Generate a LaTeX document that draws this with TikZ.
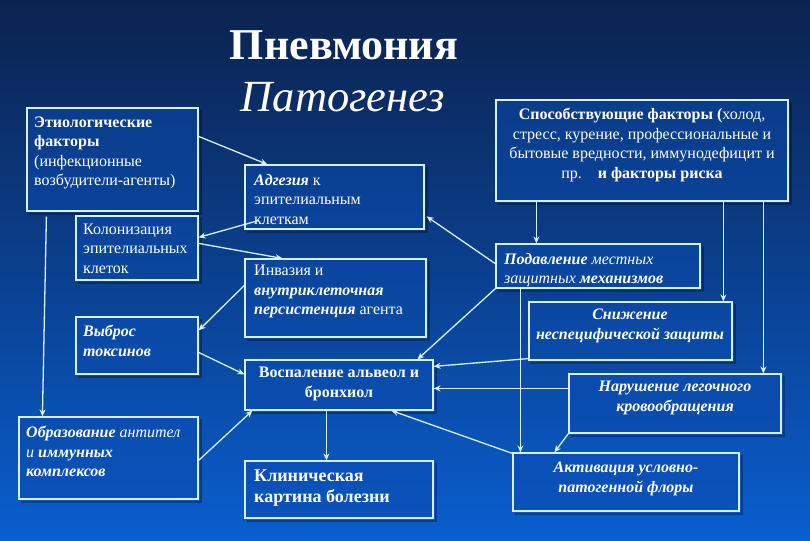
\documentclass[tikz,border=0pt]{standalone}
\usepackage{fontspec}
\setmainfont{Liberation Serif}
\usetikzlibrary{arrows.meta,calc,fit}
\definecolor{bgtop}{RGB}{11,34,78}
\definecolor{bgmid}{RGB}{10,64,144}
\definecolor{bgbot}{RGB}{10,94,206}
\definecolor{edge}{RGB}{215,240,255}
\definecolor{boxfill}{RGB}{10,76,176}
\newcommand\shadowof[1]{\draw[shd] ($(#1.north east)+(2,3)$) -- ($(#1.south east)+(2,2)$) -- ($(#1.south west)+(3,2)$);}
\begin{document}
\begin{tikzpicture}[x=1pt,y=-1pt,
  box/.style={draw=edge, line width=1.2pt, fill=boxfill, fill opacity=0.5, inner sep=0pt},
  txt/.style={text=white, font=\fontsize{16}{19.5}\selectfont, inner sep=0pt, align=left, anchor=north west},
  ctxt/.style={txt, align=center, anchor=north},
  bi/.style={font=\fontsize{16}{19.5}\selectfont\bfseries\itshape},
  arr/.style={draw=edge, line width=1.3pt, -{Stealth[length=7pt,width=6pt]}},
  shd/.style={draw=black, draw opacity=0.3, line width=2pt}]
\useasboundingbox (0,0) rectangle (810,540);
\path[top color=bgtop, middle color=bgmid, bottom color=bgbot] (0,0) rectangle (810,540);

% title
\node[text=white, font=\fontsize{44}{48}\selectfont\bfseries, anchor=base, inner sep=0pt] (t1) at (344,60) {Пневмония};
\node[text=white, font=\fontsize{44.5}{48}\selectfont\itshape, anchor=base, inner sep=0pt] (t2) at (343,112) {Патогенез};

% boxes
\node[box, fit={(27,108) (198,211)}] (eti) {};
\node[box, fit={(76,216) (198,280)}] (col) {};
\node[box, fit={(76,317) (198,374)}] (vyb) {};
\node[box, fit={(19,417) (198,499)}] (obr) {};
\node[box, fit={(245,165) (424,229)}] (adh) {};
\node[box, fit={(245,259) (426,337)}] (inv) {};
\node[box, fit={(245,360) (433,410)}] (vos) {};
\node[box, fit={(245,461) (433,518)}] (kli) {};
\node[box, fit={(496,100) (788,201)}] (spo) {};
\node[box, fit={(496,244) (700,288)}] (pod) {};
\node[box, fit={(529,302) (732,360)}] (sni) {};
\node[box, fit={(569,374) (781,433)}] (nar) {};
\node[box, fit={(513,453) (739,511)}] (akt) {};
\foreach \n in {eti,col,vyb,obr,adh,inv,vos,kli,spo,pod,sni,nar,akt} {\shadowof{\n}}

% texts
\node[txt] (etit) at (34,116.5) {\textbf{Этиологические}\\\textbf{факторы}\\(инфекционные\\возбудители-агенты)};
\node[txt] (colt) at (83,223.5) {Колонизация\\эпителиальных\\клеток};
\node[txt, bi] (vybt) at (83,325) {Выброс\\токсинов};
\node[txt] (obrt) at (26,426) {\textbf{\textit{Образование}} \textit{антител}\\\textit{и} \textbf{\textit{иммунных}}\\\textbf{\textit{комплексов}}};
\node[txt] (adht) at (254,174) {\textbf{\textit{Адгезия}} к\\эпителиальным\\клеткам};
\node[txt] (invt) at (254,265) {Инвазия и\\\textbf{\textit{внутриклеточная}}\\\textbf{\textit{персистенция}} агента};
\node[ctxt, font=\fontsize{16}{19.5}\selectfont\bfseries] (vost) at (339,367) {Воспаление альвеол и\\бронхиол};
\node[txt, font=\fontsize{18}{21}\selectfont\bfseries] (klit) at (254,470) {Клиническая\\картина болезни};
\node[ctxt] (spot) at (642,108) {\textbf{Способствующие факторы (}холод,\\стресс, курение, профессиональные и\\бытовые вредности, иммунодефицит и\\пр.\quad \textbf{и факторы риска}};
\node[txt] (podt) at (504,253) {\textbf{\textit{Подавление}} \textit{местных}\\\textit{защитных} \textbf{\textit{механизмов}}};
\node[ctxt, bi] (snit) at (630,309) {Снижение\\неспецифической защиты};
\node[ctxt, bi] (nart) at (675,381) {Нарушение легочного\\кровообращения};
\node[ctxt, bi] (aktt) at (626,462) {Активация условно-\\патогенной флоры};

% connectors
\draw[arr] ($(eti.north east)+(0,29)$) -- ($(adh.north west)+(23,0)$);
\draw[arr] ($(adh.south west)+(14,-9)$) -- ($(col.north east)+(0,22)$);
\draw[arr] ($(col.north east)+(0,28)$) -- ($(inv.north west)+(38,0)$);
\draw[arr] ($(inv.north west)+(1,26)$) -- ($(vyb.north east)+(0,14)$);
\draw[arr] ($(vyb.north east)+(0,36)$) -- ($(vos.north west)+(0,15)$);
\draw[arr] ($(obr.north east)+(0,44)$) -- ($(vos.south west)+(8,0)$);
\draw[arr] ($(eti.south west)+(20,5)$) -- ($(obr.north west)+(24,0)$);
\draw[arr] ($(vos.south west)+(82,0)$) -- ($(kli.north west)+(82,0)$);
\draw[arr] ($(spo.south west)+(41,0)$) -- ($(pod.north west)+(41,0)$);
\draw[arr] ($(spo.south west)+(228,0)$) -- ($(sni.north west)+(195,0)$);
\draw[arr] ($(spo.south west)+(268,0)$) -- ($(nar.north west)+(195,0)$);
\draw[arr] ($(pod.north west)+(1,21)$) -- ($(adh.north east)+(2,52)$);
\draw[arr] (pod.south west) -- ($(vos.north west)+(173,0)$);
\draw[arr] ($(pod.south west)+(25,0)$) -- ($(akt.north west)+(8,0)$);
\draw[arr] ($(sni.south west)+(0,-2)$) -- ($(vos.north east)+(0,7)$);
\draw[arr] ($(nar.north west)+(0,15)$) -- ($(vos.north east)+(0,29)$);
\draw[arr] (nar.south west) -- ($(akt.north west)+(42,0)$);
\draw[arr] ($(akt.north west)+(0,1)$) -- ($(vos.south west)+(147,0)$);
\end{tikzpicture}
\end{document}
